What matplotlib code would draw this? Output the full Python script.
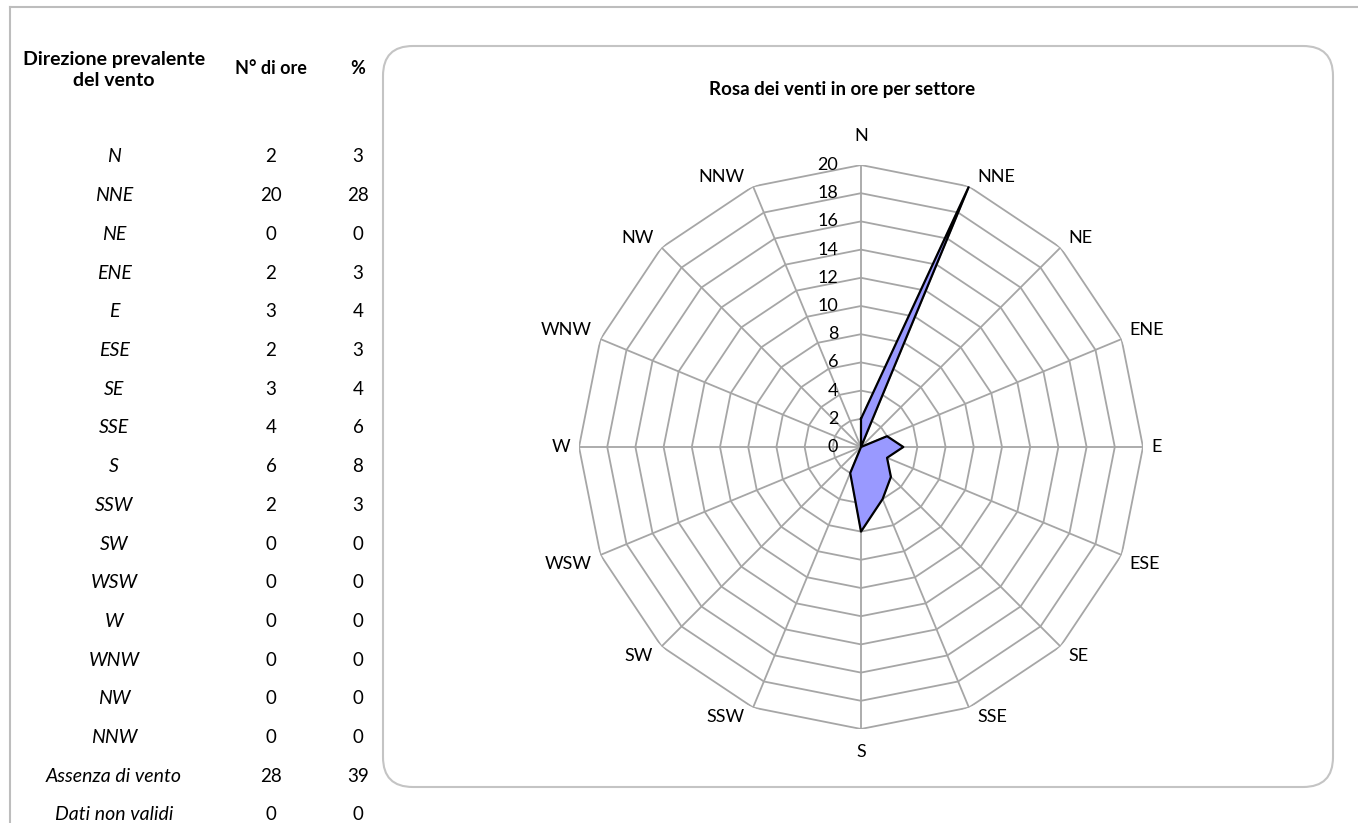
import numpy as np
import matplotlib.pyplot as plt
from matplotlib.patches import FancyBboxPatch
from matplotlib.lines import Line2D

# Data
directions = ["N", "NNE", "NE", "ENE", "E", "ESE", "SE", "SSE",
              "S", "SSW", "SW", "WSW", "W", "WNW", "NW", "NNW"]
hours = [2, 20, 0, 2, 3, 2, 3, 4, 6, 2, 0, 0, 0, 0, 0, 0]
percent = [3, 28, 0, 3, 4, 3, 4, 6, 8, 3, 0, 0, 0, 0, 0, 0]
extra_rows = ["Assenza di vento", "Dati non validi"]
extra_hours = [28, 0]
extra_percent = [39, 0]
r_ticks = list(range(0, 21, 2))

W, H = 1358, 823
fig = plt.figure(figsize=(W / 100, H / 100), dpi=100)
plt.rcParams['font.family'] = ['Lato', 'DejaVu Sans']

def fx(px):
	return px / W

def fy(py):
	return 1 - py / H

# Frame lines of the sheet
fig.add_artist(Line2D([fx(10), 1], [fy(7), fy(7)], color="#BDBDBD", lw=1.5))
fig.add_artist(Line2D([fx(10), fx(10)], [fy(7), 0], color="#BDBDBD", lw=1.5))

# Chart box (behind the polar axes)
box = FancyBboxPatch((fx(383), fy(787)), fx(1333) - fx(383), fy(46) - fy(787),
	boxstyle="round,pad=0,rounding_size=0.022", transform=fig.transFigure,
	facecolor="white", edgecolor="#C4C4C4", lw=1.5, mutation_aspect=W / H, zorder=-5)
fig.add_artist(box)

# Table headers
fig.text(fx(114), fy(70), "Direzione prevalente\ndel vento", ha="center", va="center",
	fontsize=14, fontweight="bold", linespacing=1.25)
fig.text(fx(271), fy(68), "N° di ore", ha="center", va="center", fontsize=13, fontweight="bold")
fig.text(fx(358), fy(68), "%", ha="center", va="center", fontsize=13, fontweight="bold")

# Table rows
labels = directions + extra_rows
col_h = hours + extra_hours
col_p = percent + extra_percent
row0, step = 157, 38.7
for i in range(len(labels)):
	y = fy(row0 + i * step)
	fig.text(fx(114), y, labels[i], ha="center", va="center", fontsize=14, style="italic")
	fig.text(fx(271), y, str(col_h[i]), ha="center", va="center", fontsize=13.5)
	fig.text(fx(358), y, str(col_p[i]), ha="center", va="center", fontsize=13.5)

fig.text(fx(842), fy(89), "Rosa dei venti in ore per settore", ha="center", va="center",
	fontsize=13.5, fontweight="bold")

# Radar chart
cx, cy, rad = 861, 447, 282
ax = fig.add_axes([fx(cx - rad), fy(cy + rad), 2 * rad / W, 2 * rad / H], projection="polar")
ax.set_theta_zero_location("N")
ax.set_theta_direction(-1)
ax.set_ylim(0, 20)
ax.grid(False)
ax.spines["polar"].set_visible(False)
ax.set_yticks([])
ax.set_xticks([])
ax.set_facecolor("none")

theta = np.arange(len(directions)) * 2 * np.pi / len(directions)
theta_c = np.append(theta, theta[0])

grid_col = "#A6A6A6"
for r in r_ticks[1:]:
	ax.plot(theta_c, [r] * len(theta_c), color=grid_col, lw=1.3, zorder=1)
for t in theta:
	ax.plot([t, t], [0, 20], color=grid_col, lw=1.3, zorder=1)

vals = np.append(hours, hours[0])
ax.fill(theta_c, vals, color="#9999FF", zorder=2)
ax.plot(theta_c, vals, color="black", lw=1.6, zorder=3)

# category labels sit beside the outer vertex, Excel style
for t, name in zip(theta, directions):
	s, c = np.sin(t), np.cos(t)
	ha = "left" if s > 0.1 else ("right" if s < -0.1 else "center")
	va = "bottom" if c > 0.1 else ("top" if c < -0.1 else "center")
	dx = 6 * np.sign(round(s, 3))
	dy = 1 * np.sign(round(c, 3))
	if abs(s) < 0.1:
		dy = 15 if c > 0 else -11
	ax.annotate(name, xy=(t, 20), xytext=(dx, dy), textcoords="offset points",
		ha=ha, va=va, fontsize=13)

for r in r_ticks:
	ax.annotate(str(r), xy=(0, r), xytext=(-16.5, 0), textcoords="offset points",
		ha="right", va="center", fontsize=13, zorder=4)

fig.savefig("out.png", dpi=100)
